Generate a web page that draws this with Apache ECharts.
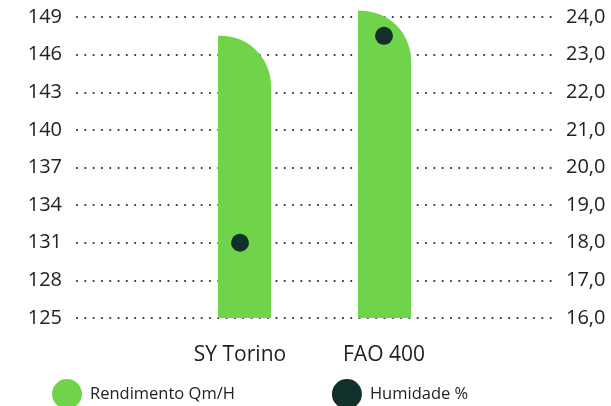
<!DOCTYPE html>
<html>
<head>
<meta charset="utf-8">
<script src="https://cdn.jsdelivr.net/npm/echarts@6/dist/echarts.min.js"></script>
<style>
html,body{margin:0;padding:0;background:#fff;}
#c{width:611px;height:406px;}
</style>
</head>
<body>
<div id="c"></div>
<script>
const categories = ['SY Torino', 'FAO 400'];
const rendimento = [147.5, 149.5];
const humidade = [18.0, 23.5];
const leftTicks = [125, 149, 3];
const rightTicks = [16, 24, 1];
const seriesNames = ['Rendimento Qm/H', 'Humidade %'];

const GREEN = '#70d44b';
const DARK = '#11302b';
const TEXT = '#222222';
const FONT = 'Open Sans';

const TOP = 17, BOTTOM = 88;
const PLOT_H = 406 - TOP - BOTTOM;
const PX_PER_UNIT = PLOT_H / (leftTicks[1] - leftTicks[0]);
const BAR_HEADROOM = 1; // extra units above the top tick for the hidden bar axis

const chart = echarts.init(document.getElementById('c'));
chart.setOption({
  animation: false,
  backgroundColor: '#fff',
  grid: [
    {left: 77, right: 58, top: TOP, bottom: BOTTOM},
    {left: 174.5, width: 280, top: TOP - BAR_HEADROOM * PX_PER_UNIT, bottom: BOTTOM},
    {left: 168, width: 288, top: TOP, bottom: BOTTOM}
  ],
  legend: {
    data: seriesNames,
    left: 47,
    top: 374,
    itemWidth: 30,
    itemHeight: 30,
    itemGap: 97,
    icon: 'circle',
    textStyle: {fontFamily: FONT, fontSize: 16.5, color: TEXT, padding: [0, 0, 0, 3]}
  },
  xAxis: [
    {gridIndex: 0, type: 'category', data: categories, show: false},
    {gridIndex: 1, type: 'category', data: categories, show: false},
    {gridIndex: 2, type: 'category', data: categories,
     axisLine: {show: false}, axisTick: {show: false}, splitLine: {show: false},
     axisLabel: {fontFamily: FONT, fontSize: 21, color: TEXT, margin: 27}}
  ],
  yAxis: [
    {gridIndex: 0, type: 'value', position: 'left', min: leftTicks[0], max: leftTicks[1], interval: leftTicks[2],
     axisLine: {show: false}, axisTick: {show: false},
     axisLabel: {fontFamily: FONT, fontSize: 20, color: TEXT, margin: 15},
     splitLine: {show: true, lineStyle: {color: '#1d3a33', width: 2.2, type: [0.01, 8.3], cap: 'round'}}},
    {gridIndex: 0, type: 'value', position: 'right', min: rightTicks[0], max: rightTicks[1], interval: rightTicks[2],
     axisLine: {show: false}, axisTick: {show: false}, splitLine: {show: false},
     axisLabel: {fontFamily: FONT, fontSize: 20, color: TEXT, margin: 13,
       formatter: v => v.toFixed(1).replace('.', ',')}},
    {gridIndex: 1, type: 'value', min: leftTicks[0], max: leftTicks[1] + BAR_HEADROOM, show: false, splitLine: {show: false}},
    {gridIndex: 2, type: 'value', min: rightTicks[0], max: rightTicks[1], show: false, splitLine: {show: false}}
  ],
  series: [
    {name: seriesNames[0], type: 'bar', xAxisIndex: 1, yAxisIndex: 2, data: rendimento,
     barWidth: 53, itemStyle: {color: GREEN, borderRadius: [0, 50, 0, 0]}},
    {name: seriesNames[1], type: 'scatter', xAxisIndex: 2, yAxisIndex: 3, data: humidade,
     symbolSize: 18, z: 5, itemStyle: {color: DARK, opacity: 1}}
  ]
});
</script>
</body>
</html>
